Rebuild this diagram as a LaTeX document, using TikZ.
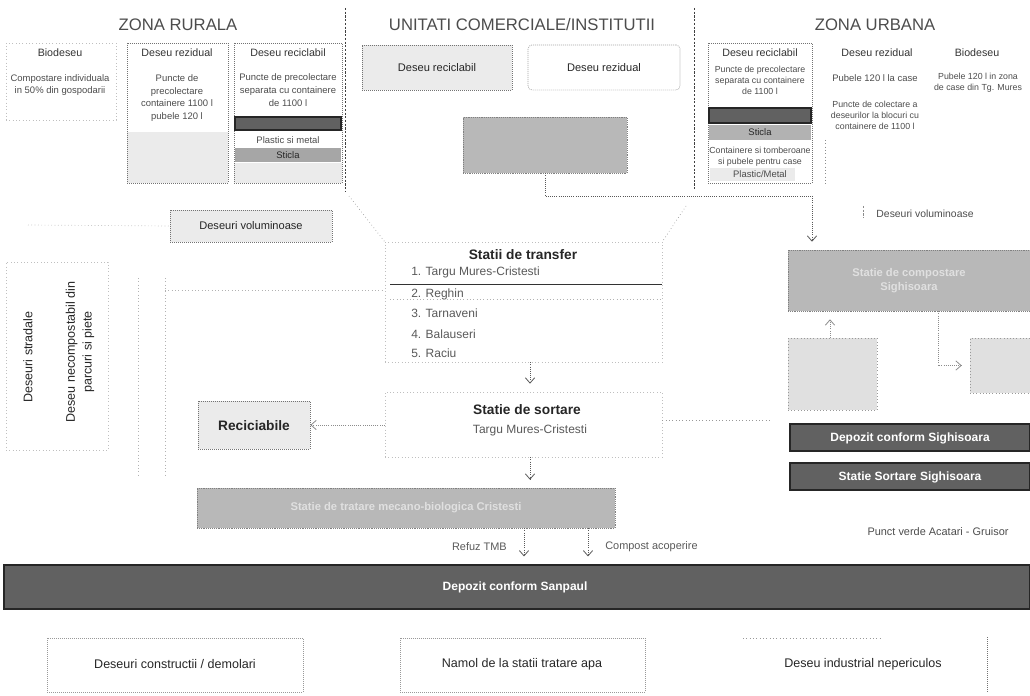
\documentclass[tikz,border=0pt]{standalone}
\usepackage{fontspec}
\setmainfont{Liberation Sans}
\usetikzlibrary{arrows.meta,fit}

\begin{document}
\begin{tikzpicture}[x=0.75pt,y=0.75pt,yscale=-1,xscale=1,
  area/.style={inner sep=0pt},
  dotbox/.style={area,draw=black!55,densely dotted,line width=0.5pt},
  faintbox/.style={area,draw=black!25,dotted,line width=0.5pt},
  stipple/.style={fill=black!8},
  graybox/.style={area,fill=black!28,draw=black!50,densely dotted},
  darkbar/.style={area,fill=black!62,draw=black!85,line width=0.8pt},
  sepline/.style={black!75,dash pattern=on 1.6pt off 1.2pt,line width=0.6pt},
  faint/.style={black!30,dotted,line width=0.5pt},
  conn/.style={black!65,densely dotted,line width=0.6pt},
  arr/.style={conn,-{Straight Barb[length=4pt,width=7pt]}},
  title/.style={font=\fontsize{12.5}{14}\selectfont,text=black!70,inner sep=0.75pt},
  head/.style={font=\fontsize{8}{9}\selectfont,text=black!80,inner sep=0.75pt},
  small/.style={font=\fontsize{7.1}{9.6}\selectfont,text=black!70,align=center,inner sep=0.75pt},
  tight/.style={small,font=\fontsize{6.6}{8.3}\selectfont},
  mid/.style={font=\fontsize{8.3}{9}\selectfont,text=black!85,inner sep=0.75pt},
  big/.style={font=\fontsize{9.4}{11}\selectfont,text=black!85,inner sep=0.75pt},
  list/.style={font=\fontsize{9}{10}\selectfont,text=black!65,anchor=west,inner sep=0.75pt},
  bold/.style={font=\fontsize{10.3}{12}\selectfont\bfseries,text=black!85,inner sep=0.75pt},
  white/.style={font=\fontsize{9}{10}\selectfont\bfseries,text=white,inner sep=0.75pt},
  ghost/.style={font=\fontsize{8.4}{11}\selectfont\bfseries,text=black!12,align=center,inner sep=0.75pt}
]
\useasboundingbox (0,0) rectangle (1030,695);

%% zone separators
\draw[sepline] (345,8) -- (345,192);
\draw[sepline] (694,8) -- (694,190);

% Text Node
\node[title] (tRur) at (178,25) {ZONA RURALA};
\node[title] (tCom) at (522,25) {UNITATI COMERCIALE/INSTITUTII};
\node[title] (tUrb) at (875,25) {ZONA URBANA};

%% ---- rural zone ----
\node[faintbox,fit={(6,43) (116,120)}] (rBio) {};
\node[head] at (60,53) {Biodeseu};
\node[small] at (60,85) {Compostare individuala\\in 50\% din gospodarii};

\fill[stipple] (127,132) rectangle (228,183);
\node[dotbox,fit={(127,43) (228,183)}] (rRez) {};
\node[head] at (177,53) {Deseu rezidual};
\node[small] at (177,98) {Puncte de\\precolectare\\containere 1100 l\\pubele 120 l};

\fill[stipple] (234,163) rectangle (342,183);
\node[dotbox,fit={(234,43) (342,183)}] (rRec) {};
\node[head] at (288,53) {Deseu reciclabil};
\node[small] at (288,90) {Puncte de precolectare\\separata cu containere\\de 1100 l};
\node[darkbar,fit={(235,117) (341,130)}] (rBar) {};
\node[small] at (288,140) {Plastic si metal};
\node[area,fill=black!35,fit={(235,148) (341,162)}] (rSti) {};
\node[small,text=black!85] at (rSti) {Sticla};

%% ---- commercial units ----
\fill[stipple] (362,45) rectangle (512,90);
\node[dotbox,fit={(362,45) (512,90)}] (cRec) {};
\node[mid] at (cRec) {Deseu reciclabil};
\node[dotbox,rounded corners=3pt,fit={(528,45) (680,90)}] (cRez) {};
\node[mid] at (cRez) {Deseu rezidual};
\node[graybox,fit={(463,117) (627,173)}] (cTrp) {};

%% ---- urban zone ----
\node[dotbox,fit={(708,43) (812,183)}] (uRec) {};
\node[head] at (760,53) {Deseu reciclabil};
\node[tight] at (760,80) {Puncte de precolectare\\separata cu containere\\de 1100 l};
\node[darkbar,fit={(709,108) (811,123)}] (uBar) {};
\node[area,fill=black!30,fit={(709,125) (811,140)}] (uSti) {};
\node[small,text=black!85] at (uSti) {Sticla};
\node[tight] at (760,157) {Containere si tomberoane\\si pubele pentru case};
\fill[stipple] (710,168) rectangle (795,181);
\node[small] at (760,174) {Plastic/Metal};

\draw[faint,black!45] (825,140) -- (825,186);
\node[head] at (877,53) {Deseu rezidual};
\node[small] at (875,78) {Pubele 120 l la case};
\node[tight] at (875,115) {Puncte de colectare a\\deseurilor la blocuri cu\\containere de 1100 l};

\node[head] at (977,53) {Biodeseu};
\node[tight] at (978,83) {Pubele 120 l in zona\\de case din Tg. Mures};

%% ---- left side ----
\fill[stipple] (170,210) rectangle (332,242);
\node[dotbox,fit={(170,210) (332,242)}] (volum) {};
\node[mid] at (volum) {Deseuri voluminoase};
\coordinate (volL) at (28,225);
\draw[faint] (volL) -- (volum.west);

\node[faintbox,fit={(6,262) (108,450)}] (strad) {};
\node[big,rotate=90] at (28,357) {Deseuri stradale};
\node[big,rotate=90,align=center,font=\fontsize{9.4}{12.6}\selectfont] at (80,352) {Deseu necompostabil din\\parcuri si piete};
\draw[faint] (138,278) -- (138,477);
\draw[faint] (165,278) -- (165,477);

\fill[stipple] (198,401) rectangle (310,449);
\node[dotbox,fit={(198,401) (310,449)}] (recicl) {};
\node[bold] at (254,426) {Reciciabile};

%% ---- central chain ----
\node[faintbox,fit={(385,242) (662,362)}] (transfer) {};
\node[bold] at (523,255) {Statii de transfer};
\node[list] at (410,272) {1. Targu Mures-Cristesti};
\draw[black!80,line width=0.7pt] (390,284) -- (662,284);
\node[list] at (410,294) {2. Reghin};
\draw[faint] (390,299) -- (662,299);
\node[list] at (410,313) {3. Tarnaveni};
\node[list] at (410,334) {4. Balauseri};
\node[list] at (410,353) {5. Raciu};

\node[faintbox,fit={(385,392) (662,457)}] (sortare) {};
\node[bold] at (527,410) {Statie de sortare};
\node[list,anchor=center] at (530,430) {Targu Mures-Cristesti};

\node[graybox,fit={(197,488) (615,528)}] (tmb) {};
\node[ghost] at (tmb) {Statie de tratare mecano-biologica Cristesti};

\coordinate (rurD) at (349,196);
\coordinate (urbD) at (686,206);
\draw[faint,black!40] (rurD) -- (transfer.north west);
\draw[faint,black!40] (urbD) -- (transfer.north east);
\coordinate (strL) at (165,290);
\draw[faint] (strL) -- (transfer.west |- strL);
\draw[arr] (transfer.south -| 530,0) -- ([yshift=-6]sortare.north -| 530,0);
\draw[arr] (sortare.south -| 530,0) -- ([yshift=-6]tmb.north -| 530,0);
\draw[arr,black!45] (sortare.west |- recicl.east) -- (recicl.east);
\coordinate (sigL) at (770,420);
\draw[faint,black!40] (sortare.east |- sigL) -- (sigL);

%% ---- landfill Sanpaul ----
\node[darkbar,fit={(4,565) (1030,609)}] (depSan) {};
\node[white] at (515,587) {Depozit conform Sanpaul};
\coordinate (rfx) at (524,0);
\coordinate (cpx) at (588,0);
\draw[arr] (tmb.south -| rfx) -- ([yshift=-6]depSan.north -| rfx);
\draw[arr] (tmb.south -| cpx) -- ([yshift=-6]depSan.north -| cpx);
\node[list,anchor=east,font=\fontsize{8.2}{9}\selectfont] at (508,547) {Refuz TMB};
\node[list,font=\fontsize{8.2}{9}\selectfont] at (604,547) {Compost acoperire};

%% ---- right side ----
\node[graybox,fit={(788,250) (1030,311)}] (urbBig) {};
\node[ghost] at (urbBig) {Statie de compostare\\Sighisoara};
\node[area,draw=black!40,dotted,fill=black!12,fit={(788,338) (877,410)}] (uBox1) {};
\node[area,draw=black!40,dotted,fill=black!12,fit={(970,338) (1030,393)}] (uBox2) {};
\coordinate (urbT) at (812,196);
\draw[conn] (cTrp.south -| 545,0) |- (urbT);
\draw[arr] (urbT) -- ([yshift=-6]urbT |- urbBig.north);
\draw[sepline,black!45] (863,206) -- (863,218);
\node[small,font=\fontsize{7.8}{9}\selectfont] at (925,214) {Deseuri voluminoase};
\draw[arr,black!45] (uBox1.north -| 830,0) -- ([yshift=6]urbBig.south -| 830,0);
\coordinate (u2x) at (938,0);
\draw[arr,black!45] (urbBig.south -| u2x) |- ([xshift=-6]uBox2.west);

\node[darkbar,fit={(790,424) (1030,451)}] (depSig) {};
\node[white] at (910,438) {Depozit conform Sighisoara};
\node[darkbar,fit={(790,463) (1030,490)}] (sorSig) {};
\node[white] at (910,477) {Statie Sortare Sighisoara};
\node[small,font=\fontsize{8.2}{9}\selectfont] (pVerde) at (938,532) {Punct verde Acatari - Gruisor};

%% ---- bottom boxes ----
\node[dotbox,black!40,fit={(47,638) (303,692)}] (constr) {};
\node[big] at (175,664) {Deseuri constructii / demolari};
\node[dotbox,black!40,fit={(400,638) (645,692)}] (namol) {};
\node[big] at (522,664) {Namol de la statii tratare apa};
\draw[faint,black!40] (743,638) -- (880,638);
\draw[dotbox,black!55] (987,637) -- (987,692);
\node[big] (indust) at (863,664) {Deseu industrial nepericulos};

\end{tikzpicture}
\end{document}
